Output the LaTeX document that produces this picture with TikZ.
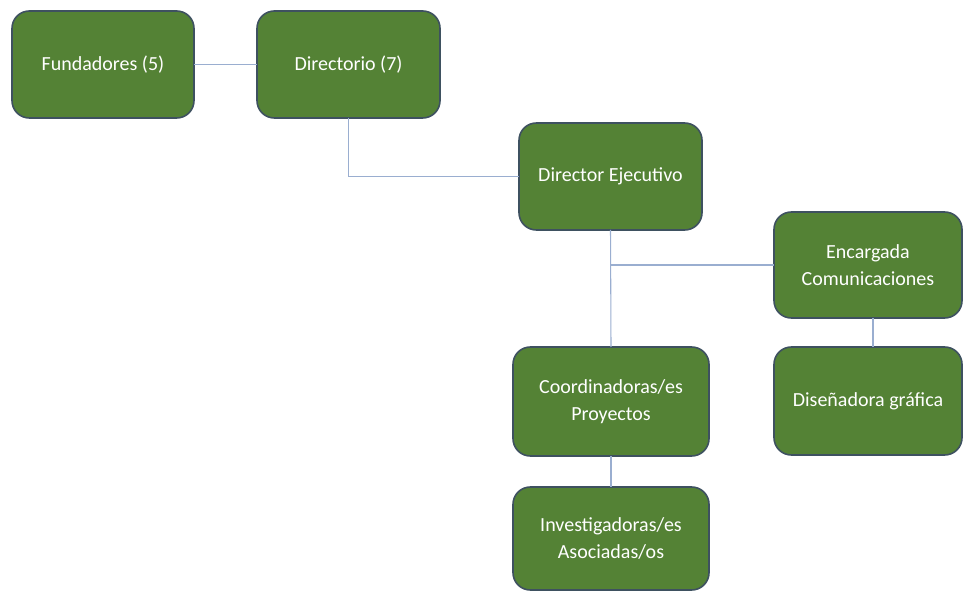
\documentclass[tikz,border=0pt]{standalone}
\usepackage{fontspec}
\setmainfont{Carlito}
\definecolor{boxfill}{HTML}{548235}
\definecolor{boxline}{HTML}{3E5160}
\definecolor{conn}{HTML}{9AAED0}
\begin{document}
\begin{tikzpicture}[x=0.75pt,y=-0.75pt,
  orgbox/.style={draw=boxline, fill=boxfill, line width=1.2pt, rounded corners=13pt,
    text=white, font=\fontsize{15}{20.5}\selectfont, align=center,
    inner sep=2pt, outer sep=0pt},
  link/.style={draw=conn, line width=0.8pt}]
\useasboundingbox (0,0) rectangle (963,591);
\node[orgbox, minimum width=136.5pt, minimum height=80.25pt] (fund) at (103,64.5) {Fundadores (5)};
\node[orgbox, minimum width=137.25pt, minimum height=80.25pt] (dir) at (348.5,64.5) {Directorio (7)};
\node[orgbox, minimum width=137.25pt, minimum height=80.25pt] (exec) at (610.5,176.5) {Director Ejecutivo};
\node[orgbox, minimum width=141pt, minimum height=79.5pt] (enc) at (868,265) {Encargada\\Comunicaciones};
\node[orgbox, minimum width=147pt, minimum height=81.75pt] (coord) at (611,401.5) {Coordinadoras/es\\Proyectos};
\node[orgbox, minimum width=141pt, minimum height=81pt] (dis) at (868,401) {Diseñadora gráfica};
\node[orgbox, minimum width=147pt, minimum height=77.25pt] (inv) at (611,538.5) {Investigadoras/es\\Asociadas/os};
\coordinate (branch) at (exec.south |- enc.west);
\draw[link] (fund.east) -- (dir.west);
\draw[link] (dir.south) |- (exec.west);
\draw[link] (exec.south) -- (coord.north);
\draw[link] (branch) -- (enc.west);
\draw[link] ([xshift=3.75pt]enc.south) -- ([xshift=3.75pt]dis.north);
\draw[link] (coord.south) -- (inv.north);
\end{tikzpicture}
\end{document}
